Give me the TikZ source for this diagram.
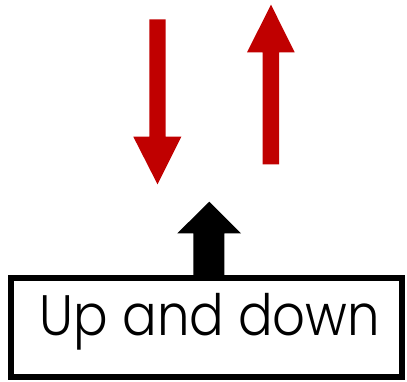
\documentclass[tikz,border=0pt]{standalone}
\usepackage{fontspec}
\setmainfont{Poppins Light}
\definecolor{arrred}{HTML}{C00000}
\begin{document}
\begin{tikzpicture}[x=1pt,y=-1pt,
  redarrow/.style={fill=arrred,draw=none},
  blackarrow/.style={fill=black,draw=none},
  labelbox/.style={draw=black,line width=6pt,fill=white}]
\useasboundingbox (0,0) rectangle (407,381);
% down arrow
\fill[redarrow] (149.3,19.3) -- (165.7,19.3) -- (165.7,136.7) -- (181.3,136.7)
  -- (157.5,184.3) -- (133.3,136.7) -- (149.3,136.7) -- cycle;
% up arrow
\fill[redarrow] (262.7,164.3) -- (279,164.3) -- (279,52.3) -- (294.7,52.3)
  -- (271,4.7) -- (247,52.3) -- (262.7,52.3) -- cycle;
% black arrow
\fill[blackarrow] (193.3,280) -- (224.3,280) -- (224.3,233.3) -- (241,233.3)
  -- (209.3,201.7) -- (177.3,233.3) -- (193.3,233.3) -- cycle;
% box
\draw[labelbox] (11.3,277.5) rectangle (402,376.5);
\node[anchor=base,inner sep=0pt,xscale=0.9,font=\fontsize{57}{60}\selectfont] (label) at (210,335) {Up and down};
\end{tikzpicture}
\end{document}
